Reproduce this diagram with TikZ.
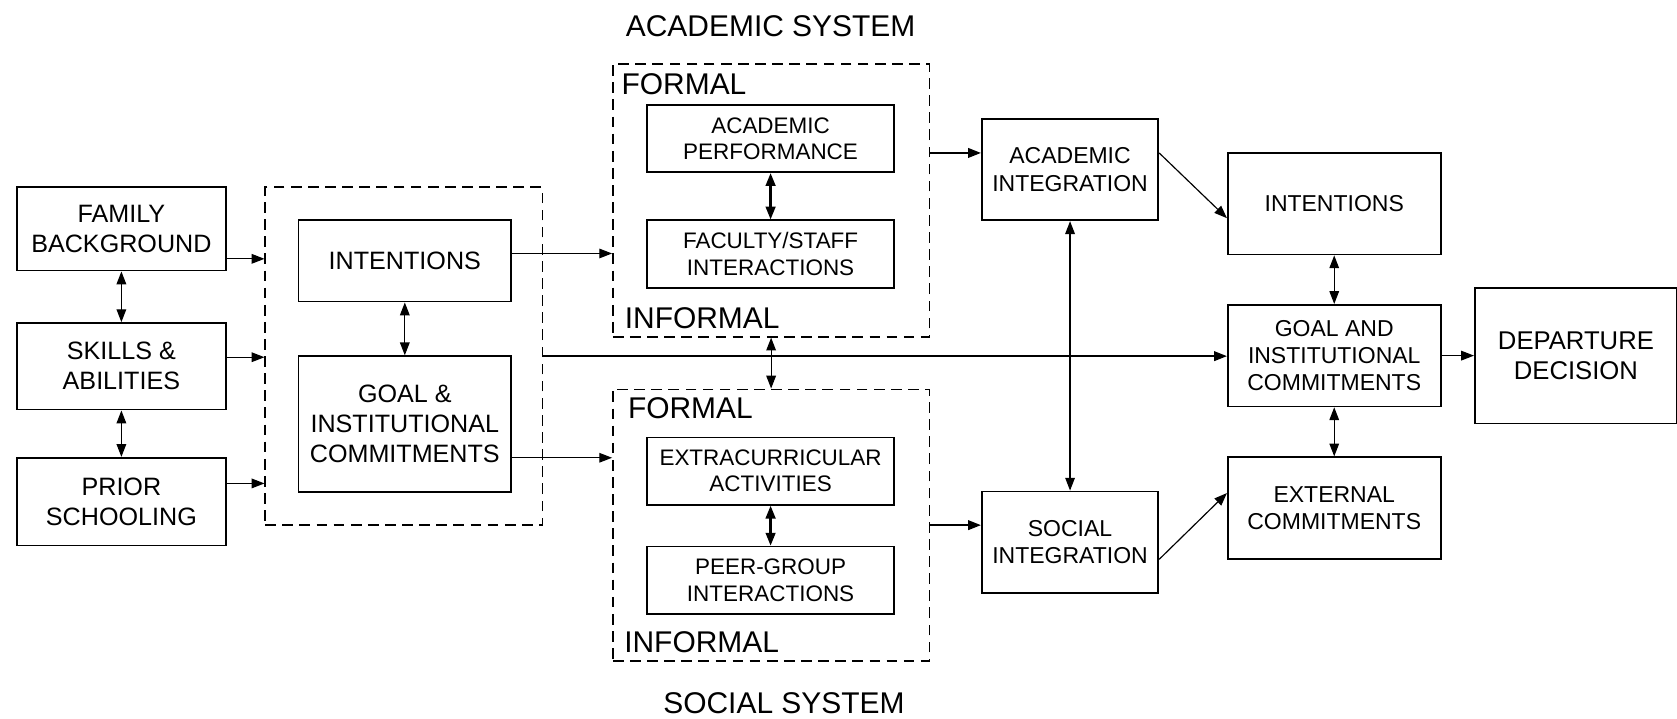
\documentclass[tikz,border=0pt]{standalone}
\usepackage{fontspec}
\setmainfont{Liberation Sans}
\usepackage{tikz}
\usetikzlibrary{arrows.meta,calc,positioning}

\newcommand{\lft}{\fontsize{23.5}{28}\selectfont}
\newcommand{\mdf}{\fontsize{21}{24.5}\selectfont}
\newcommand{\rgt}{\fontsize{21.5}{25.5}\selectfont}
\newcommand{\bgf}{\fontsize{28}{32}\selectfont}

\begin{document}
\begin{tikzpicture}[x=1pt,y=-1pt,>={Triangle[length=12pt,width=9pt]},
	blk/.style={draw,line width=1.6pt,align=center,inner sep=0pt},
	lbox/.style={blk,font=\lft,minimum width=195pt},
	mbox/.style={blk,font=\mdf,minimum width=231pt,minimum height=63pt},
	rbox/.style={blk,font=\rgt,minimum width=199pt,minimum height=95pt},
	dbox/.style={draw,line width=1.4pt,dash pattern=on 10pt off 6pt,inner sep=0pt},
	lab/.style={anchor=base west,inner sep=0pt,font=\bgf},
	conn/.style={line width=1.1pt},
	fat/.style={line width=1.7pt},
	dbl/.style={line width=2.2pt}]
	\useasboundingbox (0,0) rectangle (1568,672);

	\node[lab] (tacad) at (585,34) {ACADEMIC SYSTEM};
	\node[lab] (tsoc) at (620,667) {SOCIAL SYSTEM};

	% left column
	\node[lbox,minimum height=78pt] (fam) at (113.5,214) {FAMILY\\BACKGROUND};
	\node[lbox,minimum height=81pt] (skl) at (113.5,342.5) {SKILLS \&\\ABILITIES};
	\node[lbox,minimum height=82pt] (pri) at (113.5,469) {PRIOR\\SCHOOLING};

	\node[dbox,minimum width=259pt,minimum height=316pt] (pre) at (377.5,333) {};
	\node[lbox,minimum width=199pt,minimum height=76pt] (intl) at (378.5,244) {INTENTIONS};
	\node[lbox,minimum width=199pt,minimum height=127pt] (goall) at (378.5,396.5) {GOAL \&\\INSTITUTIONAL\\COMMITMENTS};

	% academic and social systems
	\node[dbox,minimum width=296pt,minimum height=255pt] (acad) at (721,187.5) {};
	\node[lab] (fa) at (581,88) {FORMAL};
	\node[lab] (ia) at (584,307) {INFORMAL};
	\node[mbox] (perf) at (720.5,129.5) {ACADEMIC\\PERFORMANCE};
	\node[mbox] (fac) at (720.5,237.5) {FACULTY/STAFF\\INTERACTIONS};

	\node[dbox,minimum width=296pt,minimum height=254pt] (soc) at (721,491) {};
	\node[lab] (fs) at (587,391) {FORMAL};
	\node[lab] (is) at (583.5,610) {INFORMAL};
	\node[mbox] (extra) at (720.5,440.5) {EXTRACURRICULAR\\ACTIVITIES};
	\node[mbox] (peer) at (720.5,542.5) {PEER-GROUP\\INTERACTIONS};

	% right part
	\node[rbox,minimum width=165pt] (aint) at (1000.5,158.5) {ACADEMIC\\INTEGRATION};
	\node[rbox,minimum width=165pt] (sint) at (1000.5,507) {SOCIAL\\INTEGRATION};
	\node[rbox] (intr) at (1247.5,190.5) {INTENTIONS};
	\node[rbox] (goalr) at (1247.5,332.5) {GOAL AND\\INSTITUTIONAL\\COMMITMENTS};
	\node[rbox] (ext) at (1247.5,475) {EXTERNAL\\COMMITMENTS};
	\node[blk,font=\fontsize{24}{28.5}\selectfont,minimum width=189pt,minimum height=127pt] (dep) at (1473.5,332.5) {DEPARTURE\\DECISION};

	\draw[->,conn] ([yshift=-28pt]fam.east) -- ([yshift=-28pt]fam.east -| pre.west);
	\draw[->,conn] ([yshift=8.5pt]skl.east) -- ([yshift=8.5pt]skl.east -| pre.west);
	\draw[->,conn] ([yshift=17pt]pri.east) -- ([yshift=17pt]pri.east -| pre.west);
	\draw[<->,conn] (fam.south) -- (skl.north);
	\draw[<->,conn] (skl.south) -- (pri.north);
	\draw[<->,conn] (intl.south) -- (goall.north);

	\draw[->,conn] ([yshift=7pt]intl.east) -- ([yshift=7pt]intl.east -| acad.west);
	\draw[->,conn] ([yshift=-31.5pt]goall.east) -- ([yshift=-31.5pt]goall.east -| soc.west);
	\draw[->,fat] (pre.east) -- (pre.east -| goalr.west);
	\draw[<->,dbl] (perf.south) -- (fac.north);
	\draw[<->,dbl] (extra.south) -- (peer.north);
	\draw[<->,conn] (acad.south) -- (soc.north);

	\draw[->,fat] ([yshift=15.5pt]aint.west -| acad.east) -- ([yshift=15.5pt]aint.west);
	\draw[->,fat] ([yshift=16pt]sint.west -| soc.east) -- ([yshift=16pt]sint.west);
	\draw[<->,conn] (aint.south) -- (sint.north);

	\draw[->,conn] ([yshift=15.5pt]aint.east) -- ([yshift=-13.5pt]intr.west);
	\draw[->,conn] ([yshift=-16pt]sint.east) -- ([yshift=14pt]ext.west);
	\draw[<->,conn] (intr.south) -- (goalr.north);
	\draw[<->,conn] (goalr.south) -- (ext.north);
	\draw[->,conn] (goalr.east) -- (dep.west);
\end{tikzpicture}
\end{document}
